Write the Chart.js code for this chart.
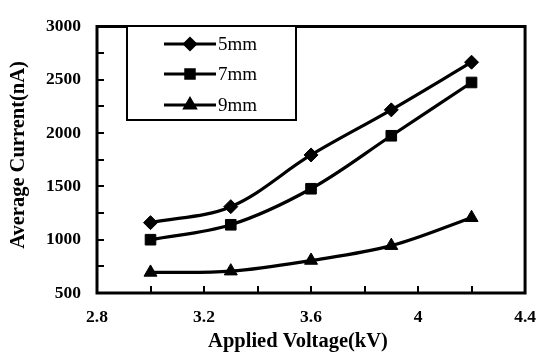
<!DOCTYPE html>
<html><head><meta charset="utf-8">
<script src="https://cdn.jsdelivr.net/npm/chart.js@4/dist/chart.umd.min.js"></script>
<style>html,body{margin:0;padding:0;background:#fff;}#wrap{width:550px;height:359px;}</style>
</head><body><div id="wrap"><canvas id="c" width="550" height="359"></canvas></div>
<script>
const voltages = [3.0, 3.3, 3.6, 3.9, 4.2];
const series5mm = [1160, 1310, 1795, 2218, 2665];
const series7mm = [1000, 1140, 1478, 1975, 2475];
const series9mm = [693, 705, 805, 944, 1206];
const seriesLabels = ['5mm', '7mm', '9mm'];
const xTicks = [2.8, 3.2, 3.6, 4.0, 4.4];
const yTicks = [500, 1000, 1500, 2000, 2500, 3000];

const toPts = arr => voltages.map((v, i) => ({x: v, y: arr[i]}));
const styles = [
  {pointStyle: 'rectRot', radius: 7},
  {pointStyle: 'rect', radius: 7.5},
  {pointStyle: 'triangle', radius: 7.5}
];
const datasets = [series5mm, series7mm, series9mm].map((s, i) => ({
  label: seriesLabels[i],
  data: toPts(s),
  borderColor: '#000',
  backgroundColor: '#000',
  borderWidth: 3.2,
  pointStyle: styles[i].pointStyle,
  pointRadius: styles[i].radius,
  pointBorderWidth: 1,
  tension: 0.35
}));

const framePlugin = {
  id: 'frame',
  afterDraw(chart) {
    const ctx = chart.ctx, a = chart.chartArea;
    const xs = chart.scales.x, ys = chart.scales.y;
    ctx.save();
    ctx.strokeStyle = '#000';
    ctx.lineWidth = 3;
    ctx.strokeRect(a.left, a.top, a.right - a.left, a.bottom - a.top);
    ctx.lineWidth = 2;
    for (let i = 0; i <= 8; i++) {
      const v = 2.8 + i * 0.2;
      const px = Math.round(xs.getPixelForValue(v));
      ctx.beginPath(); ctx.moveTo(px, a.bottom); ctx.lineTo(px, a.bottom - 7); ctx.stroke();
    }
    for (let i = 0; i <= 10; i++) {
      const v = 500 + i * 250;
      const py = Math.round(ys.getPixelForValue(v));
      ctx.beginPath(); ctx.moveTo(a.left, py); ctx.lineTo(a.left + 7, py); ctx.stroke();
    }
    ctx.fillStyle = '#000';
    ctx.font = 'bold 20.5px "Liberation Serif", serif';
    ctx.textAlign = 'center'; ctx.textBaseline = 'middle';
    ctx.fillText('Applied Voltage(kV)', 298, 342);
    ctx.save();
    ctx.translate(19, 155);
    ctx.rotate(-Math.PI / 2);
    ctx.fillText('Average Current(nA)', 0, 0);
    ctx.restore();
    const lx = 127, ly = 26, lw = 169, lh = 94;
    ctx.fillStyle = '#fff';
    ctx.fillRect(lx, ly, lw, lh);
    ctx.lineWidth = 2;
    ctx.strokeRect(lx, ly, lw, lh);
    const rows = [44, 74, 105];
    chart.data.datasets.forEach((ds, i) => {
      const y = rows[i];
      ctx.strokeStyle = '#000'; ctx.lineWidth = 3;
      ctx.beginPath(); ctx.moveTo(164, y); ctx.lineTo(216, y); ctx.stroke();
      ctx.fillStyle = '#000';
      Chart.helpers.drawPoint(ctx, {pointStyle: ds.pointStyle, radius: ds.pointRadius - 1.5, rotation: 0, borderWidth: 1}, 190, y);
      ctx.fill();
      ctx.font = '19px "Liberation Serif", serif';
      ctx.textAlign = 'left'; ctx.textBaseline = 'middle';
      ctx.fillText(ds.label, 218, y + 1);
    });
    ctx.restore();
  }
};

new Chart(document.getElementById('c'), {
  type: 'line',
  data: {datasets},
  options: {
    responsive: false,
    animation: false,
    layout: {padding: {top: 17, right: 17, left: 0, bottom: 0}},
    plugins: {legend: {display: false}, tooltip: {enabled: false}},
    scales: {
      x: {
        type: 'linear', min: 2.8, max: 4.4,
        afterBuildTicks: s => { s.ticks = xTicks.map(v => ({value: v})); },
        afterFit: s => { s.height = 66; },
        grid: {display: false, drawTicks: false},
        border: {display: false},
        ticks: {color: '#000', padding: 14, maxRotation: 0,
          font: {family: '"Liberation Serif", serif', weight: 'bold', size: 17.5},
          callback: v => String(Math.round(v * 10) / 10)}
      },
      y: {
        min: 500, max: 3000,
        afterBuildTicks: s => { s.ticks = yTicks.map(v => ({value: v})); },
        afterFit: s => { s.width = 97; },
        grid: {display: false, drawTicks: false},
        border: {display: false},
        ticks: {color: '#000', padding: 16,
          font: {family: '"Liberation Serif", serif', weight: 'bold', size: 17.5},
          callback: v => String(v)}
      }
    }
  },
  plugins: [framePlugin]
});
</script></body></html>
